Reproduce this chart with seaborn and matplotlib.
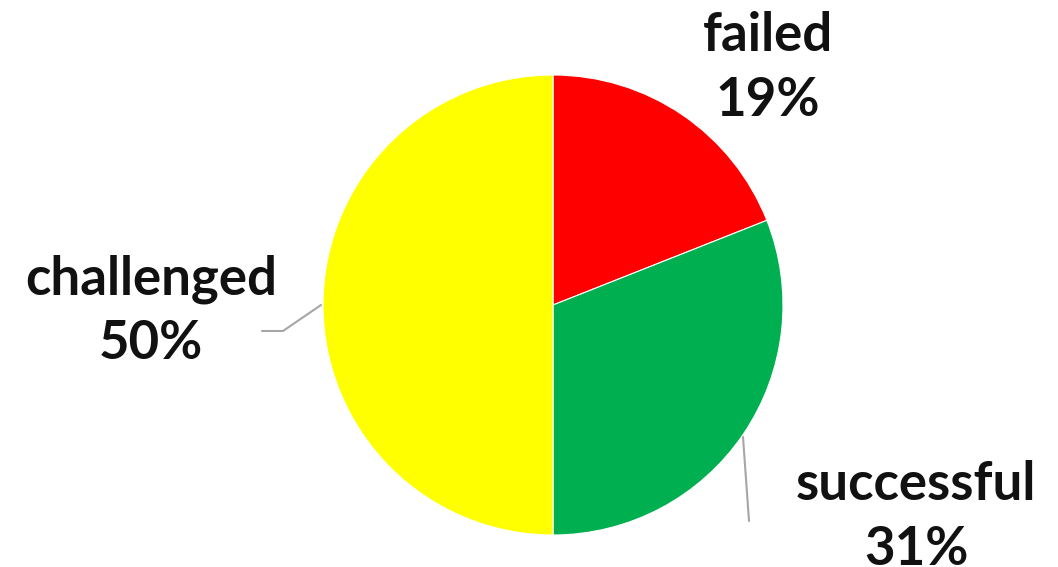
import numpy as np
import matplotlib
matplotlib.use("Agg")
import matplotlib.pyplot as plt
import seaborn as sns

# --- Daten ---
categories = ["failed", "successful", "challenged"]
shares = [19, 31, 50]
colors = ["#FF0000", "#00B050", "#FFFF00"]

sns.set_theme(style="white")
plt.rcParams["font.family"] = ["Lato", "DejaVu Sans"]

fig = plt.figure(figsize=(10.58, 5.67), dpi=100)
ax = fig.add_axes([0, 0, 1, 1])

wedges, _ = ax.pie(shares, colors=colors, startangle=90, counterclock=False,
                   radius=1, wedgeprops=dict(linewidth=0.8, edgecolor="white"))

# pie center at pixel (553, 305), radius 230 px (after pie, which resets limits)
R_PX = 230
ax.set_xlim(-553 / R_PX, (1058 - 553) / R_PX)
ax.set_ylim(-(567 - 305) / R_PX, 305 / R_PX)
ax.set_aspect("equal")
ax.axis("off")


def px2d(x, y):
    return ((x - 553) / R_PX, (305 - y) / R_PX)


# Beschriftungen (Positionen der Textbloecke in Pixeln)
label_px = {"failed": (768, 68), "successful": (916, 517), "challenged": (151, 311)}
for cat, val in zip(categories, shares):
    x, y = px2d(*label_px[cat])
    ax.text(x, y, f"{cat}\n{val}%",
            ha="center", va="center", fontsize=38, fontweight="bold",
            color="#111111", linespacing=1.38)

# Leader lines
for pts in [[(321, 305), (283, 331), (262, 331)], [(743, 437), (749, 521)]]:
    xy = np.array([px2d(*p) for p in pts])
    ax.plot(xy[:, 0], xy[:, 1], color="#A6A6A6", linewidth=1.5)

fig.savefig("out.png", dpi=100, facecolor="white")
